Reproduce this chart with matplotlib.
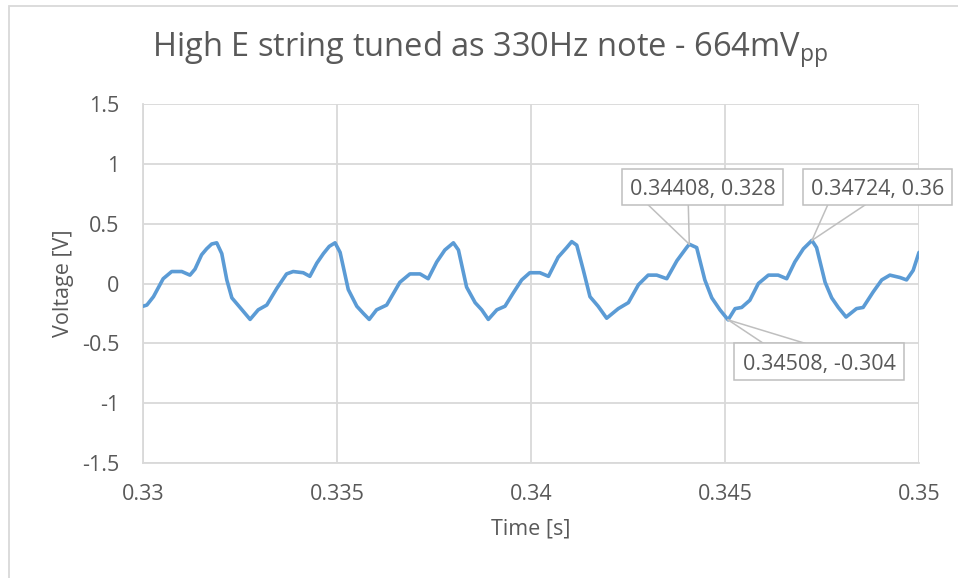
import matplotlib
matplotlib.use('Agg')
import matplotlib.pyplot as plt
from matplotlib.patches import Rectangle
from matplotlib.lines import Line2D
from matplotlib.transforms import IdentityTransform

# Waveform samples (time in s, voltage in V)
time_s = [0.33000, 0.33010, 0.33027, 0.33052, 0.33074, 0.33100, 0.33121, 0.33134, 0.33151, 0.33164,
          0.33177, 0.33190, 0.33203, 0.33216, 0.33229, 0.33250, 0.33276, 0.33297, 0.33319, 0.33345,
          0.33370, 0.33387, 0.33413, 0.33430, 0.33448, 0.33465, 0.33480, 0.33495, 0.33508, 0.33529,
          0.33551, 0.33568, 0.33583, 0.33602, 0.33628, 0.33662, 0.33688, 0.33714, 0.33735, 0.33757,
          0.33778, 0.33800, 0.33813, 0.33834, 0.33856, 0.33873, 0.33890, 0.33912, 0.33933, 0.33954,
          0.33976, 0.33997, 0.34023, 0.34045, 0.34070, 0.34092, 0.34105, 0.34118, 0.34135, 0.34152,
          0.34173, 0.34195, 0.34225, 0.34251, 0.34277, 0.34302, 0.34324, 0.34350, 0.34376, 0.34401,
          0.34408, 0.34427, 0.34448, 0.34466, 0.34487, 0.34508, 0.34526, 0.34543, 0.34564, 0.34586,
          0.34612, 0.34637, 0.34659, 0.34680, 0.34702, 0.34724, 0.34736, 0.34758, 0.34775, 0.34792,
          0.34812, 0.34839, 0.34856, 0.34882, 0.34904, 0.34925, 0.34951, 0.34968, 0.34985, 0.35000]
voltage = [-0.19, -0.18, -0.11, 0.04, 0.10, 0.10, 0.07, 0.12, 0.24, 0.29,
           0.33, 0.34, 0.25, 0.03, -0.12, -0.20, -0.30, -0.22, -0.18, -0.04,
           0.08, 0.10, 0.09, 0.06, 0.17, 0.25, 0.31, 0.34, 0.26, -0.05,
           -0.19, -0.25, -0.30, -0.22, -0.18, 0.01, 0.08, 0.08, 0.04, 0.18,
           0.28, 0.34, 0.28, -0.03, -0.16, -0.22, -0.30, -0.22, -0.19, -0.08,
           0.03, 0.09, 0.09, 0.06, 0.22, 0.30, 0.35, 0.32, 0.11, -0.11,
           -0.19, -0.29, -0.21, -0.16, -0.01, 0.07, 0.07, 0.04, 0.19, 0.30,
           0.328, 0.30, 0.03, -0.12, -0.22, -0.304, -0.21, -0.20, -0.14, 0.00,
           0.07, 0.07, 0.04, 0.18, 0.29, 0.36, 0.30, 0.01, -0.12, -0.20,
           -0.28, -0.21, -0.20, -0.07, 0.03, 0.07, 0.05, 0.03, 0.11, 0.26]

# Labelled points
callout_t = [0.34408, 0.34724, 0.34508]
callout_v = [0.328, 0.36, -0.304]
callout_text = ["0.34408, 0.328", "0.34724, 0.36", "0.34508, -0.304"]

x_ticks = [0.33, 0.335, 0.34, 0.345, 0.35]
x_tick_labels = ["0.33", "0.335", "0.34", "0.345", "0.35"]
y_ticks = [-1.5, -1, -0.5, 0, 0.5, 1, 1.5]
y_tick_labels = ["-1.5", "-1", "-0.5", "0", "0.5", "1", "1.5"]

plt.rcParams['font.family'] = ['Open Sans', 'DejaVu Sans']
text_col = '#595959'
grid_col = '#d9d9d9'

W, H = 958, 578
fig = plt.figure(figsize=(W / 100, H / 100), dpi=100)
fig.subplots_adjust(left=143 / W, right=919 / W, top=1 - 104 / H, bottom=1 - 463 / H)
ax = fig.add_subplot(111)

ax.plot(time_s, voltage, color='#5b9bd5', lw=2.6, solid_joinstyle='round', solid_capstyle='round', zorder=3)

ax.set_xlim(0.33, 0.35)
ax.set_ylim(-1.5, 1.5)
ax.set_xticks(x_ticks)
ax.set_xticklabels(x_tick_labels)
ax.set_yticks(y_ticks)
ax.set_yticklabels(y_tick_labels)
ax.tick_params(length=0, labelsize=15.5, labelcolor=text_col)
ax.tick_params(axis='y', pad=17)
ax.tick_params(axis='x', pad=15)
ax.grid(True, color=grid_col, lw=1.3)
for s in ax.spines.values():
    s.set_visible(False)
ax.spines['left'].set_visible(True)
ax.spines['bottom'].set_visible(True)
ax.spines['left'].set_color(grid_col)
ax.spines['bottom'].set_color(grid_col)
ax.spines['left'].set_linewidth(1.3)
ax.spines['bottom'].set_linewidth(1.3)

ax.set_xlabel("Time [s]", fontsize=15.5, color=text_col, labelpad=10)
ax.set_ylabel("Voltage [V]", fontsize=15.5, color=text_col, labelpad=6)
fig.text(490 / W, 1 - 50 / H, r"High E string tuned as 330Hz note - 664mV$_\mathregular{pp}$",
         fontsize=23.5, color=text_col, ha='center', va='center')

# outer chart border
fig.add_artist(Rectangle((8.5, -5), W, H - 5.5 + 5, transform=IdentityTransform(),
                         fill=False, ec=grid_col, lw=1.3))

# callout boxes (pixel positions, y measured from top) and leader lines
boxes = [(621.7, 169.3, 783.3, 205.0), (803.3, 169.3, 951.7, 205.0), (734.3, 343.3, 904.3, 380.0)]
bases = [((648.3, 205.0), (688.3, 205.0)), ((827.7, 205.0), (865.0, 205.0)), ((763.3, 343.3), (805.0, 343.3))]
fig.canvas.draw()
for i in range(3):
    tx, ty = ax.transData.transform((callout_t[i], callout_v[i]))
    x0, y0, x1, y1 = boxes[i]
    for bx, by in bases[i]:
        fig.add_artist(Line2D([bx, tx], [H - by, ty], transform=IdentityTransform(), color='#bfbfbf', lw=1.1, zorder=4))
    fig.add_artist(Rectangle((x0, H - y1), x1 - x0, y1 - y0, transform=IdentityTransform(),
                             fc='white', ec='#bfbfbf', lw=1.1, zorder=5))
    fig.text((x0 + x1) / 2 / W, 1 - (y0 + y1) / 2 / H, callout_text[i], fontsize=15.5, color=text_col,
             ha='center', va='center_baseline', zorder=6)

fig.savefig("out.png", dpi=100)
